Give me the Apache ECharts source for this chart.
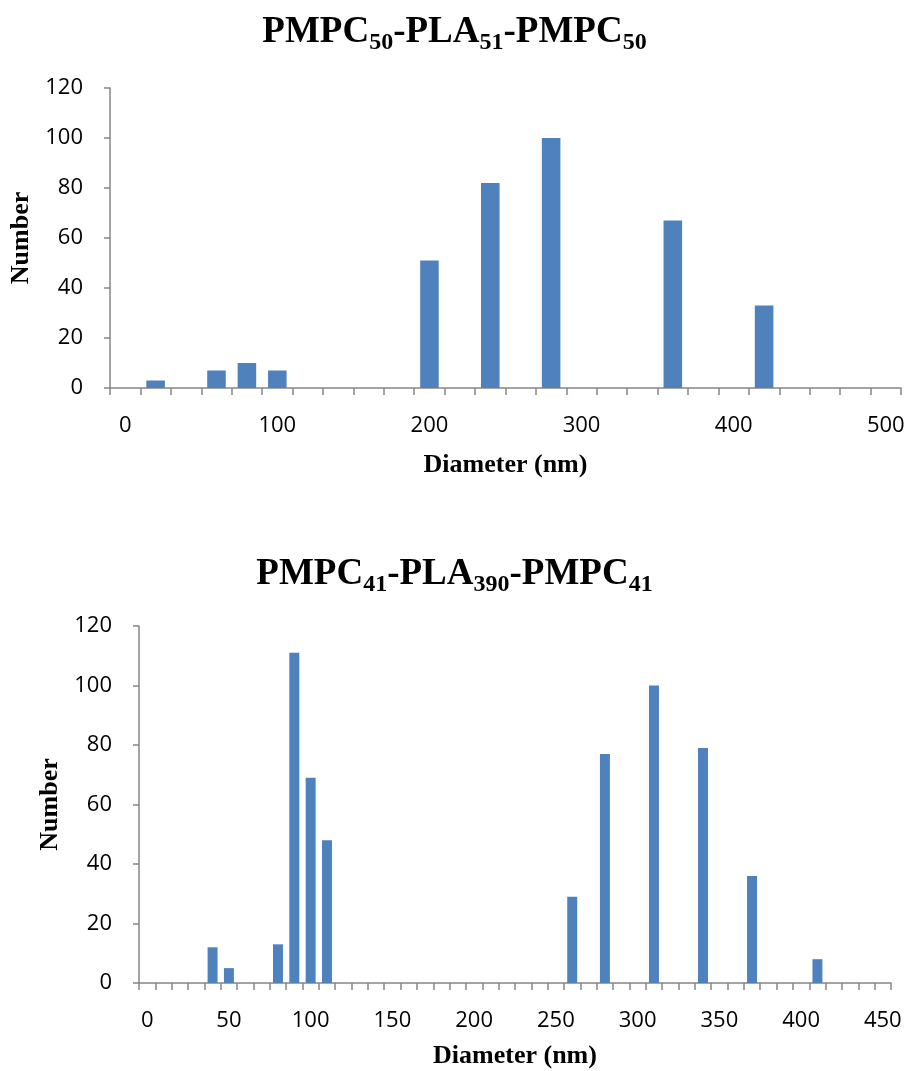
<!DOCTYPE html>
<html>
<head>
<meta charset="utf-8">
<script src="https://cdn.jsdelivr.net/npm/echarts@6/dist/echarts.min.js"></script>
<style>
	html, body { margin: 0; padding: 0; background: #fff; }
	#chart { width: 909px; height: 1071px; }
</style>
</head>
<body>
<div id="chart"></div>
<script>
// top panel: PMPC50-PLA51-PMPC50
const topCategories = ['0', '20', '40', '60', '80', '100', '120', '140', '160', '180', '200', '220', '240',
	'260', '280', '300', '320', '340', '360', '380', '400', '420', '440', '460', '480', '500'];
const topValues = [0, 3, 0, 7, 10, 7, 0, 0, 0, 0, 51, 0, 82,
	0, 100, 0, 0, 0, 67, 0, 0, 33, 0, 0, 0, 0];

// bottom panel: PMPC41-PLA390-PMPC41
const bottomCategories = ['0', '10', '20', '30', '40', '50', '60', '70', '80', '90', '100', '110', '120',
	'130', '140', '150', '160', '170', '180', '190', '200', '210', '220', '230', '240', '250', '260',
	'270', '280', '290', '300', '310', '320', '330', '340', '350', '360', '370', '380', '390', '400',
	'410', '420', '430', '440', '450'];
const bottomValues = [0, 0, 0, 0, 12, 5, 0, 0, 13, 111, 69, 48, 0,
	0, 0, 0, 0, 0, 0, 0, 0, 0, 0, 0, 0, 0, 29,
	0, 77, 0, 0, 100, 0, 0, 79, 0, 0, 36, 0, 0, 0,
	8, 0, 0, 0, 0];

const yMin = 0, yMax = 120, yStep = 20;

const serif = 'Liberation Serif';
const sans = 'Open Sans';
const axisGray = '#868686';
const barColor = '#4f81bd';

const titleRich = {
	b: { fontFamily: serif, fontWeight: 'bold', fontSize: 37, color: '#000', lineHeight: 46 },
	s: { fontFamily: serif, fontWeight: 'bold', fontSize: 24, color: '#000', lineHeight: 22, verticalAlign: 'bottom' }
};

function xAxisFor(gridIndex, cats, gap) {
	return {
		type: 'category',
		gridIndex,
		data: cats,
		boundaryGap: true,
		name: 'Diameter (nm)',
		nameLocation: 'middle',
		nameGap: gap,
		nameTextStyle: { fontFamily: serif, fontWeight: 'bold', fontSize: 26, color: '#000' },
		axisLine: { lineStyle: { color: axisGray, width: 1.5 } },
		axisTick: { show: true, interval: 0, length: 7, lineStyle: { color: axisGray, width: 1.5 } },
		axisLabel: { interval: 4, margin: 27, fontFamily: sans, fontSize: 22, color: '#000' },
		splitLine: { show: false }
	};
}

function yAxisFor(gridIndex) {
	return {
		type: 'value',
		gridIndex,
		min: yMin,
		max: yMax,
		interval: yStep,
		name: 'Number',
		nameLocation: 'middle',
		nameGap: 76,
		nameTextStyle: { fontFamily: serif, fontWeight: 'bold', fontSize: 26, color: '#000' },
		axisLine: { show: true, lineStyle: { color: axisGray, width: 1.5 } },
		axisTick: { show: true, length: 6, lineStyle: { color: axisGray, width: 1.5 } },
		axisLabel: { margin: 27, fontFamily: sans, fontSize: 22, color: '#000' },
		splitLine: { show: false }
	};
}

const chart = echarts.init(document.getElementById('chart'));

chart.setOption({
	animation: false,
	title: [
		{
			text: '{b|PMPC}{s|50}{b|-PLA}{s|51}{b|-PMPC}{s|50}',
			left: 'center',
			top: 4,
			textStyle: { rich: titleRich }
		},
		{
			text: '{b|PMPC}{s|41}{b|-PLA}{s|390}{b|-PMPC}{s|41}',
			left: 'center',
			top: 546,
			textStyle: { rich: titleRich }
		}
	],
	grid: [
		{ left: 109, top: 88, width: 792, height: 300 },
		{ left: 139, top: 626, width: 752, height: 357 }
	],
	xAxis: [xAxisFor(0, topCategories, 64), xAxisFor(1, bottomCategories, 60)],
	yAxis: [yAxisFor(0), yAxisFor(1)],
	series: [
		{
			type: 'bar',
			xAxisIndex: 0,
			yAxisIndex: 0,
			data: topValues,
			barCategoryGap: '39%',
			itemStyle: { color: barColor }
		},
		{
			type: 'bar',
			xAxisIndex: 1,
			yAxisIndex: 1,
			data: bottomValues,
			barCategoryGap: '39%',
			itemStyle: { color: barColor }
		}
	]
});
</script>
</body>
</html>
